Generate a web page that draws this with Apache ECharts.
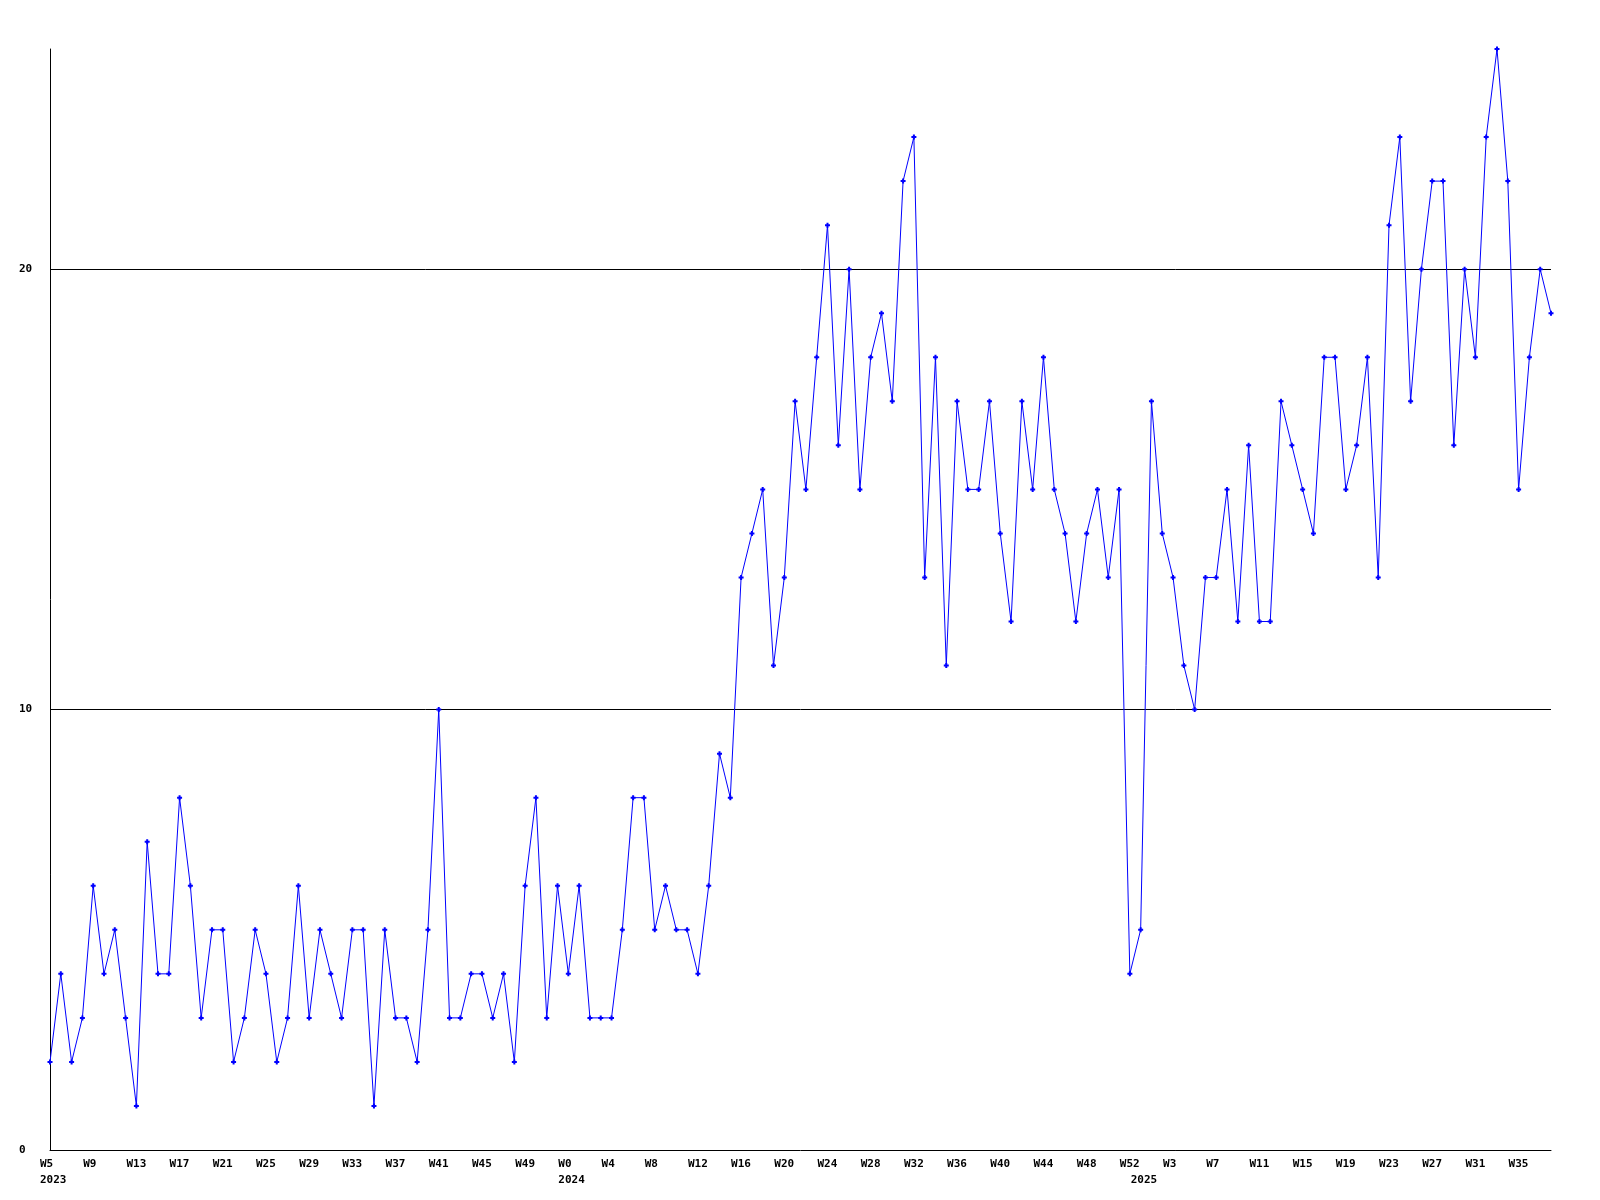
<!DOCTYPE html>
<html>
<head>
<meta charset="utf-8">
<script src="https://cdn.jsdelivr.net/npm/echarts@6/dist/echarts.min.js"></script>
<style>
html,body{margin:0;padding:0;background:#fff;}
#chart{width:1600px;height:1200px;}
</style>
</head>
<body>
<div id="chart"></div>
<script>
// Categories: week labels per year
var weeks2023 = ["2023-W5","2023-W6","2023-W7","2023-W8","2023-W9","2023-W10","2023-W11","2023-W12","2023-W13","2023-W14","2023-W15","2023-W16","2023-W17","2023-W18","2023-W19","2023-W20","2023-W21","2023-W22","2023-W23","2023-W24","2023-W25","2023-W26","2023-W27","2023-W28","2023-W29","2023-W30","2023-W31","2023-W32","2023-W33","2023-W34","2023-W35","2023-W36","2023-W37","2023-W38","2023-W39","2023-W40","2023-W41","2023-W42","2023-W43","2023-W44","2023-W45","2023-W46","2023-W47","2023-W48","2023-W49","2023-W50","2023-W51","2023-W52"];
var weeks2024 = ["2024-W0","2024-W1","2024-W2","2024-W3","2024-W4","2024-W5","2024-W6","2024-W7","2024-W8","2024-W9","2024-W10","2024-W11","2024-W12","2024-W13","2024-W14","2024-W15","2024-W16","2024-W17","2024-W18","2024-W19","2024-W20","2024-W21","2024-W22","2024-W23","2024-W24","2024-W25","2024-W26","2024-W27","2024-W28","2024-W29","2024-W30","2024-W31","2024-W32","2024-W33","2024-W34","2024-W35","2024-W36","2024-W37","2024-W38","2024-W39","2024-W40","2024-W41","2024-W42","2024-W43","2024-W44","2024-W45","2024-W46","2024-W47","2024-W48","2024-W49","2024-W50","2024-W51","2024-W52"];
var weeks2025 = ["2025-W0","2025-W1","2025-W2","2025-W3","2025-W4","2025-W5","2025-W6","2025-W7","2025-W8","2025-W9","2025-W10","2025-W11","2025-W12","2025-W13","2025-W14","2025-W15","2025-W16","2025-W17","2025-W18","2025-W19","2025-W20","2025-W21","2025-W22","2025-W23","2025-W24","2025-W25","2025-W26","2025-W27","2025-W28","2025-W29","2025-W30","2025-W31","2025-W32","2025-W33","2025-W34","2025-W35","2025-W36","2025-W37","2025-W38"];

// Series values
var values2023 = [2,4,2,3,6,4,5,3,1,7,4,4,8,6,3,5,5,2,3,5,4,2,3,6,3,5,4,3,5,5,1,5,3,3,2,5,10,3,3,4,4,3,4,2,6,8,3,6];
var values2024 = [4,6,3,3,3,5,8,8,5,6,5,5,4,6,9,8,13,14,15,11,13,17,15,18,21,16,20,15,18,19,17,22,23,13,18,11,17,15,15,17,14,12,17,15,18,15,14,12,14,15,13,15,4];
var values2025 = [5,17,14,13,11,10,13,13,15,12,16,12,12,17,16,15,14,18,18,15,16,18,13,21,23,17,20,22,22,16,20,18,23,25,22,15,18,20,19];

// Y tick labels
var yTicks = [0, 10, 20];
var yMax = 25;
var labelEvery = 4;

var categories = weeks2023.concat(weeks2024, weeks2025);
var values = values2023.concat(values2024, values2025);

function yearOf(i){ return categories[i].split('-')[0]; }
function weekOf(i){ return categories[i].split('-')[1]; }
function isYearStart(i){ return i === 0 || yearOf(i) !== yearOf(i-1); }

var chart = echarts.init(document.getElementById('chart'), null, {renderer:'canvas'});
var font = "'DejaVu Sans Mono', monospace";
chart.setOption({
  animation: false,
  backgroundColor: '#ffffff',
  grid: {left: 50, right: 49, top: 49, bottom: 50, containLabel: false},
  xAxis: {
    type: 'category',
    data: categories,
    boundaryGap: false,
    axisLine: {show: true, onZero: false, lineStyle: {color: '#000', width: 1}},
    axisTick: {show: false},
    splitLine: {show: false},
    axisLabel: {
      interval: function(i){ return i % labelEvery === 0 || isYearStart(i); },
      formatter: function(v, i){
        var w = (i % labelEvery === 0) ? weekOf(i) : '';
        return isYearStart(i) ? w + '\n' + yearOf(i) : w;
      },
      align: 'left',
      padding: [0, 0, 0, -10],
      margin: 6,
      color: '#000',
      fontFamily: font,
      fontWeight: 'bold',
      fontSize: 11,
      lineHeight: 16,
      hideOverlap: false
    }
  },
  yAxis: {
    type: 'value',
    min: yTicks[0],
    max: yMax,
    interval: yTicks[1] - yTicks[0],
    axisLine: {show: true, lineStyle: {color: '#000', width: 1}},
    axisTick: {show: false},
    splitLine: {show: true, showMinLine: false, showMaxLine: false, lineStyle: {color: '#000', width: 1}},
    axisLabel: {
      showMaxLabel: false,
      formatter: function(v){ return yTicks.indexOf(v) >= 0 ? String(v) : ''; },
      align: 'left',
      margin: 31,
      color: '#000',
      fontFamily: font,
      fontWeight: 'bold',
      fontSize: 11
    }
  },
  series: [{
    type: 'line',
    data: values,
    color: '#0000ff',
    lineStyle: {color: '#0000ff', width: 1},
    itemStyle: {color: '#0000ff', borderWidth: 0},
    symbol: 'path://M1.5 0H3.5V1.5H5V3.5H3.5V5H1.5V3.5H0V1.5H1.5Z',
    symbolSize: 5,
    showAllSymbol: true,
    z: 5
  }]
});
</script>
</body>
</html>
